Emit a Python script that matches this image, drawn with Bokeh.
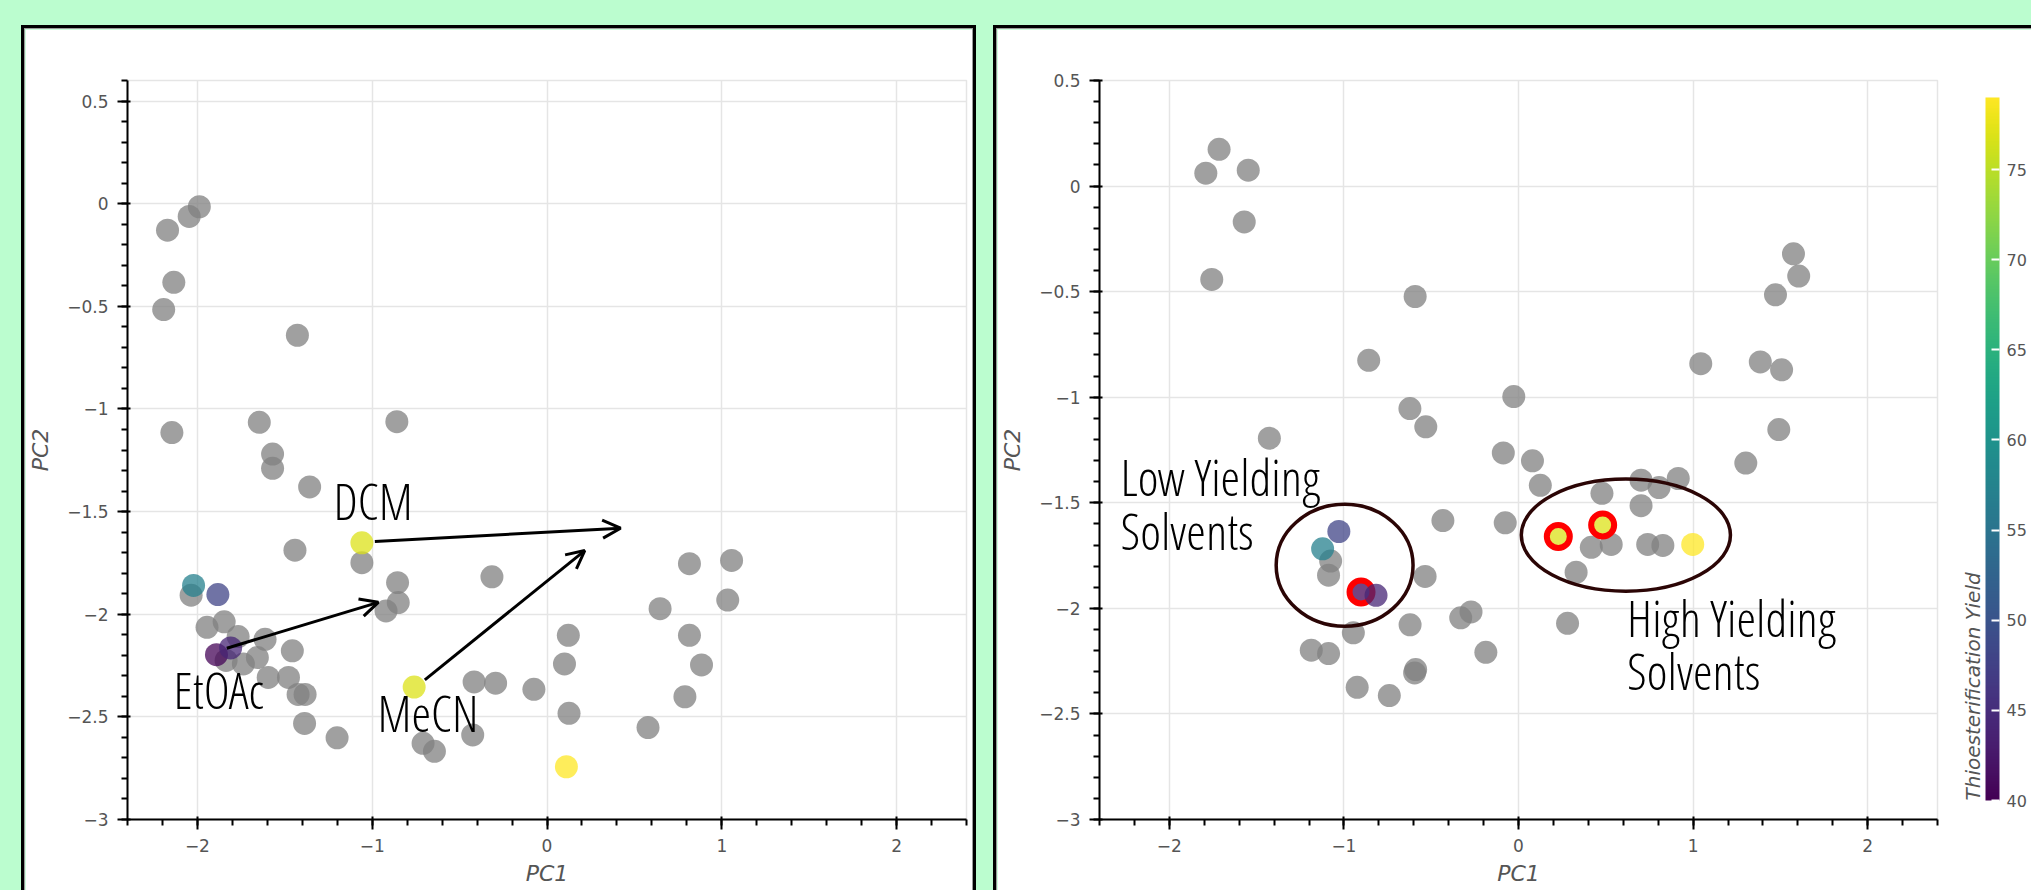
import numpy as np
from bokeh.plotting import figure
from bokeh.layouts import row, column
from bokeh.models import (ColumnDataSource, LinearColorMapper, ColorBar, Arrow, OpenHead,
                          Label, SingleIntervalTicker, Range1d, Spacer)
from bokeh.palettes import Viridis256
from bokeh.core.properties import value
from bokeh.embed import file_html
from bokeh.resources import INLINE

# ---------------- data ----------------
left_grey_x = [-1.989, -2.047, -2.171, -2.135, -2.193, -1.428, -2.146, -1.646, -0.859, -1.570,
               -1.570, -1.358, -1.442, -1.059, -0.855, -0.851, -0.921, -0.315, -2.036, -1.945,
               -1.847, -1.767, -1.613, -1.457, -1.836, -1.737, -1.657, -1.595, -1.479, -1.424,
               -1.384, -1.387, -1.201, -0.709, -0.644, -0.425, -0.417, -0.294, -0.075, 0.122,
               0.100, 0.126, 0.578, 0.647, 0.815, 1.056, 1.034, 0.815, 0.884, 0.789]
left_grey_y = [-0.015, -0.062, -0.129, -0.383, -0.516, -0.641, -1.115, -1.065, -1.062, -1.220,
               -1.289, -1.380, -1.688, -1.749, -1.846, -1.943, -1.984, -1.818, -1.907, -2.064,
               -2.037, -2.109, -2.122, -2.178, -2.225, -2.242, -2.211, -2.308, -2.308, -2.391,
               -2.391, -2.532, -2.602, -2.629, -2.668, -2.588, -2.330, -2.336, -2.366, -2.103,
               -2.242, -2.483, -2.552, -1.973, -1.754, -1.738, -1.931, -2.103, -2.247, -2.402]
left_col_x = [-2.022, -1.883, -1.891, -1.810, -1.059, -0.760, 0.111]
left_col_y = [-1.860, -1.904, -2.197, -2.164, -1.652, -2.355, -2.743]
left_col_yield = [57, 48, 40.5, 44, 77, 77, 79]

right_grey_x = [-1.715, -1.791, -1.548, -1.571, -1.757, -0.592, -0.858, -0.622, -0.531, -0.027,
                -1.427, -0.087, 0.080, 0.125, -0.433, -0.076, 0.478, 0.702, 0.805, 0.915,
                0.702, 0.417, 0.531, 0.740, 0.827, 0.330, 0.281, 1.044, 1.385, 1.507,
                1.491, 1.302, 1.472, 1.575, 1.605, -1.076, -1.088, -0.946, -1.187, -1.088,
                -0.924, -0.740, -0.589, -0.595, -0.621, -0.535, -0.331, -0.272, -0.187]
right_grey_y = [0.174, 0.061, 0.075, -0.170, -0.442, -0.523, -0.825, -1.054, -1.140, -0.997,
                -1.194, -1.264, -1.301, -1.417, -1.584, -1.595, -1.455, -1.393, -1.428, -1.385,
                -1.514, -1.711, -1.697, -1.697, -1.702, -1.829, -2.071, -0.841, -0.833, -0.870,
                -1.153, -1.312, -0.515, -0.321, -0.426, -1.776, -1.843, -2.116, -2.198, -2.214,
                -2.374, -2.413, -2.290, -2.306, -2.078, -1.849, -2.045, -2.017, -2.208]
right_col_x = [-1.029, -1.122, -0.902, -0.816, 0.228, 0.482, 0.998]
right_col_y = [-1.636, -1.718, -1.923, -1.938, -1.660, -1.605, -1.697]
right_col_yield = [48, 57, 40.5, 44, 77, 77, 79]
right_highlight = [False, False, True, False, True, True, False]

x_ticks = [-2, -1, 0, 1, 2]
x_tick_labels = ["\u22122", "\u22121", "0", "1", "2"]
y_ticks = [-3, -2.5, -2, -1.5, -1, -0.5, 0, 0.5]
y_tick_labels = ["\u22123", "\u22122.5", "\u22122", "\u22121.5", "\u22121", "\u22120.5", "0", "0.5"]
cbar_low, cbar_high = 40, 79
cbar_title = "Thioesterification Yield"

# ---------------- style ----------------
BG = "#bbfdcf"
ANN_FONT = "Open Sans Condensed Light, Liberation Sans Narrow, DejaVu Sans Condensed, sans-serif"
ANN_SIZE = "50px"
AX_FONT = "DejaVu Sans"
GREY = "grey"
ALPHA = 0.75
CANVAS_H = 861

mapper = LinearColorMapper(palette=Viridis256, low=cbar_low, high=cbar_high)


def overrides(vals, labels):
    return {(int(v) if float(v).is_integer() else float(v)): lab for v, lab in zip(vals, labels)}


def make_fig(width, y_end, right_border):
    p = figure(width=width, height=CANVAS_H, x_range=Range1d(-2.4, 2.4), y_range=Range1d(-3, y_end),
               output_backend="svg", toolbar_location=None,
               min_border_left=101, min_border_right=right_border,
               min_border_top=51, min_border_bottom=71,
               x_axis_label="PC1", y_axis_label="PC2")
    p.background_fill_color = "white"
    p.border_fill_color = "white"
    p.outline_line_color = "#e5e5e5"
    p.outline_line_width = 1.5
    p.grid.grid_line_color = "#e5e5e5"
    p.grid.grid_line_width = 1.5
    p.xaxis.ticker = SingleIntervalTicker(interval=1, num_minor_ticks=5)
    p.yaxis.ticker = SingleIntervalTicker(interval=0.5, num_minor_ticks=5)
    p.xgrid.ticker = SingleIntervalTicker(interval=1, num_minor_ticks=5)
    p.ygrid.ticker = SingleIntervalTicker(interval=0.5, num_minor_ticks=5)
    p.xaxis.major_label_overrides = overrides(x_ticks, x_tick_labels)
    p.yaxis.major_label_overrides = overrides(y_ticks, y_tick_labels)
    for ax in p.axis:
        ax.axis_line_width = 2
        ax.major_tick_line_width = 2
        ax.minor_tick_line_width = 2
        ax.major_tick_in = 3
        ax.major_tick_out = 10
        ax.minor_tick_in = 0
        ax.minor_tick_out = 6
        ax.major_label_text_font = AX_FONT
        ax.major_label_text_font_size = "17px"
        ax.major_label_text_color = "#555555"
        ax.axis_label_text_font = AX_FONT
        ax.axis_label_text_font_size = "22px"
        ax.axis_label_text_color = "#555555"
        ax.major_label_standoff = 9
    p.xaxis.axis_label_standoff = 6
    p.yaxis.axis_label_standoff = 11
    return p


def shadow(right=True):
    parts = ["0 -1px 0 0 #9a9a9a", "-1px 0 0 0 #9a9a9a", "-1px -1px 0 0 #9a9a9a"]
    if right:
        parts += ["1px 0 0 0 #9a9a9a", "1px -1px 0 0 #9a9a9a"]
    parts += ["0 -4px 0 0 #000", "-4px 0 0 0 #000", "-4px -4px 0 0 #000"]
    if right:
        parts += ["4px 0 0 0 #000", "4px -4px 0 0 #000"]
    return ", ".join(parts)


def add_note(p, x, y, text):
    p.add_layout(Label(x=x, y=y, text=text, text_font=ANN_FONT, text_font_size=ANN_SIZE,
                       text_color="black", text_align="left", text_baseline="alphabetic"))


# ---------------- left panel ----------------
pl = make_fig(947, 0.6, 6)
pl.scatter(left_grey_x, left_grey_y, size=23, fill_color=GREY, fill_alpha=ALPHA, line_color=None)
src_l = ColumnDataSource(dict(x=left_col_x, y=left_col_y, yld=left_col_yield))
pl.scatter("x", "y", source=src_l, size=23,
           fill_color={"field": "yld", "transform": mapper}, fill_alpha=ALPHA, line_color=None)

for xs, ys, xe, ye in [(-0.985, -1.646, 0.421, -1.581),
                       (-1.832, -2.166, -0.965, -1.942),
                       (-0.699, -2.320, 0.216, -1.690)]:
    pl.add_layout(Arrow(end=OpenHead(size=18, line_width=3, line_color="black"),
                        x_start=xs, y_start=ys, x_end=xe, y_end=ye,
                        line_width=3, line_color="black"))
add_note(pl, -1.222, -1.448, "DCM")
add_note(pl, -2.137, -2.369, "EtOAc")
add_note(pl, -0.970, -2.483, "MeCN")
pl.styles = {"box-shadow": shadow(True)}

# ---------------- right panel ----------------
pr = make_fig(1034, 0.5, 94)
pr.scatter(right_grey_x, right_grey_y, size=23, fill_color=GREY, fill_alpha=ALPHA, line_color=None)
src_r = ColumnDataSource(dict(x=right_col_x, y=right_col_y, yld=right_col_yield,
                              ring=[1.0 if h else 0.0 for h in right_highlight]))
pr.scatter("x", "y", source=src_r, size=23,
           fill_color={"field": "yld", "transform": mapper}, fill_alpha=ALPHA,
           line_color="red", line_alpha="ring", line_width=6)

pr.ellipse(x=[-0.996, 0.615], y=[-1.796, -1.653], width=[0.784, 1.198], height=[0.577, 0.531],
           fill_color=None, line_color="#2b0505", line_width=3.5)
add_note(pr, -2.28, -1.380, "Low Yielding")
add_note(pr, -2.28, -1.634, "Solvents")
add_note(pr, 0.622, -2.045, "High Yielding")
add_note(pr, 0.622, -2.297, "Solvents")

cbar = ColorBar(color_mapper=mapper, ticker=SingleIntervalTicker(interval=5, num_minor_ticks=0),
                width=14, height=703, location=(859, 19), padding=0, margin=0,
                label_standoff=7, major_label_text_font=AX_FONT, major_label_text_font_size="16px",
                major_label_text_color="#555555",
                major_tick_in=8, major_tick_out=0, major_tick_line_color="white",
                major_tick_line_width=2, minor_tick_line_color=None,
                bar_line_color=None, background_fill_alpha=0, border_line_color=None,
                title=cbar_title, title_text_font=AX_FONT, title_text_font_style="italic",
                title_text_font_size="20px", title_text_color="#555555", title_standoff=1)
pr.add_layout(cbar, "center")
pr.styles = {"box-shadow": shadow(False)}

layout = column(Spacer(width=10, height=29),
                row(Spacer(width=25, height=10), pl, Spacer(width=25, height=10), pr))
html = file_html(layout, INLINE, "PCA solvents")
html = html.replace("</head>",
                    "<style>html, body { margin: 0; padding: 0; overflow: hidden; "
                    "background-color: %s; }</style></head>" % BG, 1)
open("out.html", "w").write(html)
